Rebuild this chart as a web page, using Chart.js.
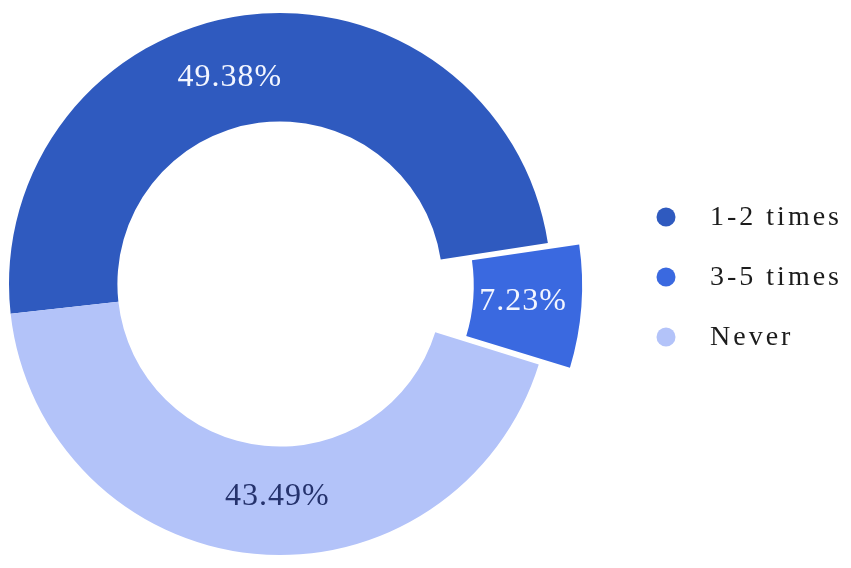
<!DOCTYPE html>
<html>
<head>
<meta charset="utf-8">
<script src="https://cdn.jsdelivr.net/npm/chart.js@4.4.1/dist/chart.umd.min.js"></script>
<style>
  html, body { margin: 0; padding: 0; background: #fff; }
  #wrap { position: relative; width: 851px; height: 568px; }
</style>
</head>
<body>
<div id="wrap"><canvas id="chart"></canvas></div>
<script>
const categories = ["1-2 times", "3-5 times", "Never"];
const shares = [49.38, 7.23, 43.49];

const sliceColors = ["#2f5abf", "#3a69e0", "#b3c3f9"];
const labelColors = ["#f3f6ff", "#f3f6ff", "#25326c"];
const sliceOffsets = [0, 80, 0];
const serif = '"Liberation Serif", "DejaVu Serif", serif';

// same shift the arc element applies when it draws an offset slice
function sliceFrame(arc) {
  const shift = (arc.options.offset || 0) / 4;
  const half = (arc.startAngle + arc.endAngle) / 2;
  const grow = shift * (1 - Math.sin(Math.min(Math.PI, arc.circumference)));
  return {
    cx: arc.x + Math.cos(half) * shift,
    cy: arc.y + Math.sin(half) * shift,
    inner: arc.innerRadius + grow,
    outer: arc.outerRadius + grow,
  };
}

const sliceLabels = {
  id: "sliceLabels",
  afterDatasetsDraw(chart) {
    const { ctx } = chart;
    const meta = chart.getDatasetMeta(0);
    ctx.save();
    ctx.font = `32px ${serif}`;
    ctx.letterSpacing = "1px";
    ctx.textAlign = "center";
    ctx.textBaseline = "middle";
    meta.data.forEach((arc, i) => {
      const { cx, cy, inner, outer } = sliceFrame(arc);
      // long slices carry their label a little before the middle
      const along = 0.5 - (0.035 * arc.circumference) / Math.PI;
      const angle = arc.startAngle + along * (arc.endAngle - arc.startAngle);
      const r = inner + 0.46 * (outer - inner);
      ctx.fillStyle = labelColors[i];
      ctx.fillText(`${shares[i].toFixed(2)}%`, cx + Math.cos(angle) * r, cy + Math.sin(angle) * r);
    });
    ctx.restore();
  },
};

const sideLegend = {
  id: "sideLegend",
  afterDraw(chart) {
    const { ctx, chartArea } = chart;
    const dotX = chartArea.right + 106;
    const textX = dotX + 44;
    const midY = (chartArea.top + chartArea.bottom) / 2 - 7;
    ctx.save();
    ctx.font = `28px ${serif}`;
    ctx.letterSpacing = "3px";
    ctx.textBaseline = "middle";
    categories.forEach((name, i) => {
      const y = midY + (i - 1) * 60;
      ctx.fillStyle = sliceColors[i];
      ctx.beginPath();
      ctx.arc(dotX, y, 9.5, 0, Math.PI * 2);
      ctx.fill();
      ctx.fillStyle = "#1c1c1c";
      ctx.fillText(name, textX, y + 1);
    });
    ctx.restore();
  },
};

new Chart(document.getElementById("chart"), {
  type: "doughnut",
  data: {
    labels: categories,
    datasets: [
      {
        data: shares,
        backgroundColor: sliceColors,
        borderWidth: 0,
        offset: sliceOffsets,
        hoverOffset: 0,
      },
    ],
  },
  options: {
    responsive: true,
    maintainAspectRatio: false,
    animation: false,
    rotation: 263.7,
    cutout: "60%",
    radius: 271,
    layout: { padding: { right: 291 } },
    plugins: {
      legend: { display: false },
      tooltip: { enabled: false },
    },
  },
  plugins: [sliceLabels, sideLegend],
});
</script>
</body>
</html>
